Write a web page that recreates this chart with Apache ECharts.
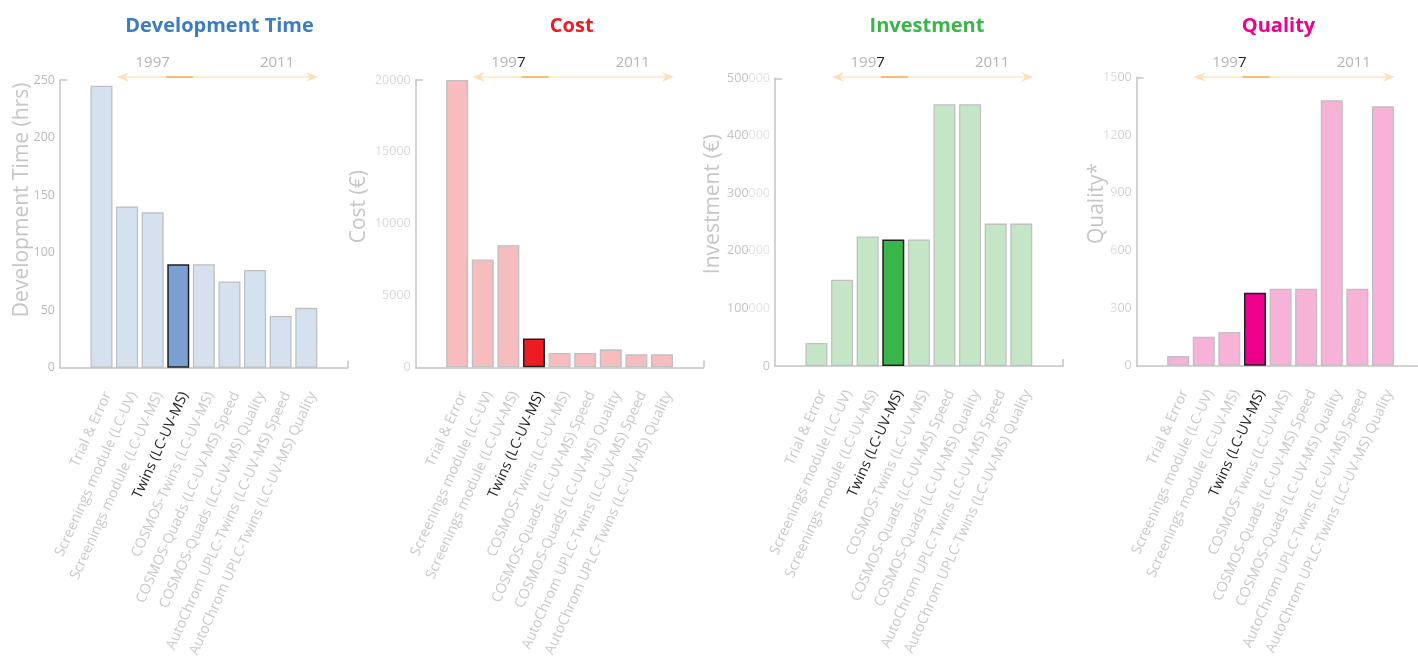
<!DOCTYPE html>
<html>
<head>
<meta charset="utf-8">
<script src="https://cdn.jsdelivr.net/npm/echarts@6/dist/echarts.min.js"></script>
<style>
  html, body { margin: 0; padding: 0; background: #ffffff; }
  #chart { width: 1418px; height: 659px; }
</style>
</head>
<body>
<div id="chart"></div>
<script>
// Method development approaches, oldest to newest
const categories = [
  'Trial & Error',
  'Screenings module (LC-UV)',
  'Screenings module (LC-UV-MS)',
  'Twins (LC-UV-MS)',
  'COSMOS-Twins (LC-UV-MS)',
  'COSMOS-Quads (LC-UV-MS) Speed',
  'COSMOS-Quads (LC-UV-MS) Quality',
  'AutoChrom UPLC-Twins (LC-UV-MS) Speed',
  'AutoChrom UPLC-Twins (LC-UV-MS) Quality'
];
const developmentTime = [245, 140, 135, 90, 90, 75, 85, 45, 52];
const cost = [20000, 7500, 8500, 2000, 1000, 1000, 1250, 900, 900];
const investment = [40000, 150000, 225000, 220000, 220000, 455000, 455000, 247500, 247500];
const quality = [50, 150, 175, 380, 400, 400, 1380, 400, 1350];

const devTimeTicks = [0, 50, 100, 150, 200, 250];
const costTicks = [0, 5000, 10000, 15000, 20000];
const investmentTicks = [0, 100000, 200000, 300000, 400000, 500000];
const qualityTicks = [0, 300, 600, 900, 1200, 1500];

const highlightIndex = 3;          // Twins (LC-UV-MS)
const eraYears = ['1997', '2011'];

const FONT = '"Open Sans", "Noto Sans", sans-serif';
const X_MIN = -1.62, X_MAX = 9.63;
const AXIS_GREY = '#c4c4c4';
const DARK = '#231f20';
const CAT_FONT = 14.3;

const panels = [
  { title: 'Development Time', titleColor: '#3a7dc4', name: 'Development Time (hrs)',
    values: developmentTime, ticks: devTimeTicks, fill: '#d6e1ef', strong: '#7c9fd3',
    left: 60, top: 80, bottom: 367.7, nameGap: 27, nameShift: 24, titleX: 219.5,
    tickLabel: v => '{a|' + v + '}', rich: { a: { color: '#b9b9b9' } }, yearDark: false },
  { title: 'Cost', titleColor: '#ed1c24', name: 'Cost (\u20ac)',
    values: cost, ticks: costTicks, fill: '#f7bcbd', strong: '#ed1c24',
    left: 415.7, top: 80, bottom: 367.3, nameGap: 46, nameShift: 17, titleX: 571.7,
    tickLabel: v => '{a|' + v + '}', rich: { a: { color: '#d8d8d8' } }, yearDark: true },
  { title: 'Investment', titleColor: '#39b54a', name: 'Investment (\u20ac)',
    values: investment, ticks: investmentTicks, fill: '#c4e6c7', strong: '#39b54a',
    left: 775, top: 78.3, bottom: 366, nameGap: 51, nameShift: 18, titleX: 927,
    tickLabel: v => v === 0 ? '{a|0}' : '{a|' + (v / 1000) + '}{b|000}',
    rich: { a: { color: '#c2c2c2' }, b: { color: '#e4e4e4' } }, yearDark: true },
  { title: 'Quality', titleColor: '#ec008c', name: 'Quality*',
    values: quality, ticks: qualityTicks, fill: '#f7b2d8', strong: '#ec008c',
    left: 1136.7, top: 77.3, bottom: 365.7, nameGap: 29, nameShift: 18, titleX: 1278.5,
    tickLabel: v => v === 0 ? '{a|0}' : '{b|' + (v / 100) + '}{a|00}',
    rich: { a: { color: '#cfcfcf' }, b: { color: '#dcdcdc' } }, yearDark: true }
];

const chart = echarts.init(document.getElementById('chart'), null, { renderer: 'canvas' });

const labelPositions = categories.map((_, i) => i);

const option = {
  animation: false,
  backgroundColor: '#ffffff',
  textStyle: { fontFamily: FONT },
  title: panels.map(p => ({
    text: p.title,
    left: p.titleX,
    top: 16,
    padding: 0,
    textAlign: 'center',
    textStyle: { fontFamily: FONT, fontSize: 20, fontWeight: 'bold', color: p.titleColor }
  })),
  grid: panels.map(p => ({
    left: p.left, top: p.top, width: 288, height: p.bottom - p.top,
    containLabel: false, outerBoundsMode: 'none'
  })),
  xAxis: panels.map((p, k) => ({
    type: 'value', gridIndex: k, min: X_MIN, max: X_MAX,
    splitLine: { show: false },
    axisLine: { show: true, onZero: false, lineStyle: { color: AXIS_GREY, width: 1.5 } },
    axisTick: { show: true, inside: true, length: 7, customValues: [X_MAX],
                lineStyle: { color: AXIS_GREY, width: 1.5 } },
    axisLabel: {
      show: true, customValues: labelPositions, rotate: 65.5, margin: 22,
      align: 'right', verticalAlign: 'top',
      fontFamily: FONT, fontSize: CAT_FONT, color: '#c9c9c9',
      formatter: v => {
        const i = Math.round(v);
        return (i === highlightIndex ? '{h|' : '{n|') + categories[i] + '}';
      },
      rich: {
        n: { color: '#c9c9c9', fontFamily: FONT, fontSize: CAT_FONT },
        h: { color: DARK, fontFamily: FONT, fontSize: CAT_FONT }
      }
    }
  })),
  yAxis: panels.map((p, k) => ({
    type: 'value', gridIndex: k,
    min: p.ticks[0], max: p.ticks[p.ticks.length - 1], interval: p.ticks[1] - p.ticks[0],
    splitLine: { show: false },
    axisLine: { show: true, onZero: false, lineStyle: { color: AXIS_GREY, width: 1.5 } },
    axisTick: { show: true, inside: true, length: 7, customValues: [p.ticks[p.ticks.length - 1]],
                lineStyle: { color: AXIS_GREY, width: 1.5 } },
    axisLabel: {
      margin: 5, fontFamily: FONT, fontSize: 12.5,
      formatter: p.tickLabel, rich: Object.fromEntries(Object.entries(p.rich).map(
        ([key, s]) => [key, Object.assign({ fontFamily: FONT, fontSize: 12.5 }, s)]))
    },
    name: p.name, nameLocation: 'middle', nameRotate: 90, nameGap: p.nameGap,
    nameMoveOverlap: false,
    nameTextStyle: { fontFamily: FONT, fontSize: 21, color: '#c6c6c6',
                     padding: [0, 0, 0, 2 * p.nameShift] }
  })),
  series: panels.map((p, k) => ({
    type: 'bar', xAxisIndex: k, yAxisIndex: k,
    barWidth: 22,
    itemStyle: { color: p.fill, borderColor: '#c0c0c0', borderWidth: 1.3 },
    emphasis: { disabled: true },
    data: p.values.map((v, i) => i === highlightIndex
      ? { value: [i, v], itemStyle: { color: p.strong, borderColor: DARK, borderWidth: 1.5 } }
      : { value: [i, v] })
  }))
};

chart.setOption(option);

// Timeline arrow (1997 -> 2011) above each panel, placed on the panel's x scale
const ARROW = { from: 0.607, to: 8.46, markFrom: 2.52, markTo: 3.57, yearA: 2.0, yearB: 6.86 };
const ARROW_Y = 77, YEAR_Y = 63;
const graphics = [];
panels.forEach((p, k) => {
  const px = v => chart.convertToPixel({ xAxisIndex: k }, v);
  const x0 = px(ARROW.from), x1 = px(ARROW.to);
  const m0 = px(ARROW.markFrom), m1 = px(ARROW.markTo);
  graphics.push({
    type: 'line', silent: true,
    shape: { x1: x0 + 6, y1: ARROW_Y, x2: x1 - 6, y2: ARROW_Y },
    style: { stroke: '#fde4c3', lineWidth: 1.5 }
  });
  graphics.push({
    type: 'polygon', silent: true,
    shape: { points: [[x0, ARROW_Y], [x0 + 12, ARROW_Y - 5], [x0 + 8, ARROW_Y], [x0 + 12, ARROW_Y + 5]] },
    style: { fill: '#fde0b9' }
  });
  graphics.push({
    type: 'polygon', silent: true,
    shape: { points: [[x1, ARROW_Y], [x1 - 12, ARROW_Y - 5], [x1 - 8, ARROW_Y], [x1 - 12, ARROW_Y + 5]] },
    style: { fill: '#fde0b9' }
  });
  graphics.push({
    type: 'line', silent: true,
    shape: { x1: m0, y1: ARROW_Y, x2: m1, y2: ARROW_Y },
    style: { stroke: '#f4ad4d', lineWidth: 1.5 }
  });
  const y0 = eraYears[0];
  graphics.push({
    type: 'text', silent: true, x: px(ARROW.yearA), y: YEAR_Y,
    style: {
      text: p.yearDark ? '{g|' + y0.slice(0, 3) + '}{d|' + y0.slice(3) + '}' : '{g|' + y0 + '}',
      align: 'center', verticalAlign: 'middle',
      rich: {
        g: { fill: '#b5b5b5', fontFamily: FONT, fontSize: 15 },
        d: { fill: DARK, fontFamily: FONT, fontSize: 15 }
      }
    }
  });
  graphics.push({
    type: 'text', silent: true, x: px(ARROW.yearB), y: YEAR_Y,
    style: { text: eraYears[1], align: 'center', verticalAlign: 'middle',
             fill: '#b5b5b5', fontFamily: FONT, fontSize: 15 }
  });
});
chart.setOption({ graphic: graphics });
</script>
</body>
</html>
